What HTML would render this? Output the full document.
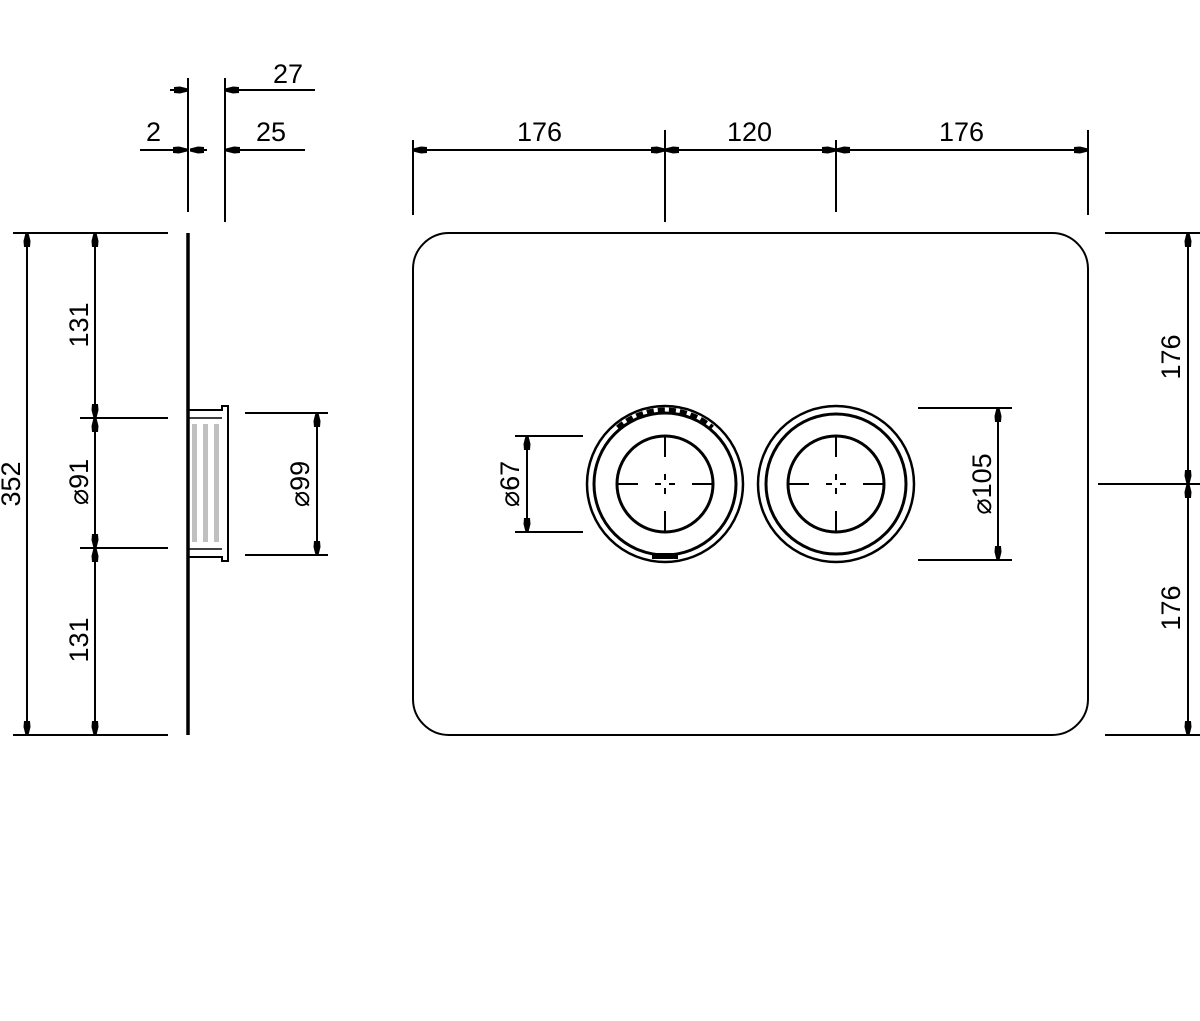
<!DOCTYPE html>
<html><head><meta charset="utf-8"><style>
html,body{margin:0;padding:0;background:#fff;}
svg{display:block}
text{font-family:"Liberation Sans",sans-serif;font-size:27px;fill:#000}
</style></head><body>
<svg width="1200" height="1021" viewBox="0 0 1200 1021" xmlns="http://www.w3.org/2000/svg">
<defs>
<marker id="a" viewBox="0 0 14 8" refX="14" refY="4" markerWidth="14" markerHeight="8" markerUnits="userSpaceOnUse" orient="auto">
<path d="M0,1 L6,0.5 L14,2.5 L14,5.5 L6,7.5 L0,7 Z" fill="#000"/>
</marker>
</defs>
<g stroke="#000" stroke-width="2" fill="none">
<line x1="188" y1="78" x2="188" y2="212"/>
<line x1="225" y1="78" x2="225" y2="222"/>
<line x1="170" y1="90" x2="188" y2="90" marker-end="url(#a)"/>
<line x1="315" y1="90" x2="225" y2="90" marker-end="url(#a)"/>
<line x1="140" y1="150" x2="187" y2="150" marker-end="url(#a)"/>
<line x1="207" y1="150" x2="190" y2="150" marker-end="url(#a)"/>
<line x1="305" y1="150" x2="226" y2="150" marker-end="url(#a)"/>
<line x1="188" y1="233" x2="188" y2="735" stroke-width="3.5"/>
<path d="M188,410 L222,410 L222,406 L228,406 L228,561 L222,561 L222,557 L188,557"/>
<line x1="188" y1="418" x2="222" y2="418" stroke-width="1.5"/>
<line x1="188" y1="549" x2="222" y2="549" stroke-width="1.5"/>
<line x1="13" y1="233" x2="168" y2="233"/>
<line x1="80" y1="418" x2="168" y2="418"/>
<line x1="80" y1="548" x2="168" y2="548"/>
<line x1="13" y1="735" x2="168" y2="735"/>
<line x1="27" y1="484" x2="27" y2="233" marker-end="url(#a)"/>
<line x1="27" y1="484" x2="27" y2="735" marker-end="url(#a)"/>
<line x1="95" y1="330" x2="95" y2="233" marker-end="url(#a)"/>
<line x1="95" y1="330" x2="95" y2="418" marker-end="url(#a)"/>
<line x1="95" y1="484" x2="95" y2="418" marker-end="url(#a)"/>
<line x1="95" y1="484" x2="95" y2="548" marker-end="url(#a)"/>
<line x1="95" y1="640" x2="95" y2="548" marker-end="url(#a)"/>
<line x1="95" y1="640" x2="95" y2="735" marker-end="url(#a)"/>
<line x1="245" y1="413" x2="328" y2="413"/>
<line x1="245" y1="555" x2="328" y2="555"/>
<line x1="317" y1="484" x2="317" y2="413" marker-end="url(#a)"/>
<line x1="317" y1="484" x2="317" y2="555" marker-end="url(#a)"/>
<rect x="413" y="233" width="675" height="502" rx="36" ry="36"/>
<line x1="413" y1="140" x2="413" y2="215"/>
<line x1="665" y1="130" x2="665" y2="222"/>
<line x1="836" y1="140" x2="836" y2="212"/>
<line x1="1088" y1="130" x2="1088" y2="215"/>
<line x1="540" y1="150" x2="413" y2="150" marker-end="url(#a)"/>
<line x1="540" y1="150" x2="665" y2="150" marker-end="url(#a)"/>
<line x1="750" y1="150" x2="665" y2="150" marker-end="url(#a)"/>
<line x1="750" y1="150" x2="836" y2="150" marker-end="url(#a)"/>
<line x1="962" y1="150" x2="836" y2="150" marker-end="url(#a)"/>
<line x1="962" y1="150" x2="1088" y2="150" marker-end="url(#a)"/>
<line x1="1105" y1="233" x2="1200" y2="233"/>
<line x1="1098" y1="484" x2="1200" y2="484"/>
<line x1="1105" y1="735" x2="1200" y2="735"/>
<line x1="1188" y1="360" x2="1188" y2="233" marker-end="url(#a)"/>
<line x1="1188" y1="360" x2="1188" y2="484" marker-end="url(#a)"/>
<line x1="1188" y1="610" x2="1188" y2="484" marker-end="url(#a)"/>
<line x1="1188" y1="610" x2="1188" y2="735" marker-end="url(#a)"/>
<line x1="515" y1="436" x2="583" y2="436"/>
<line x1="515" y1="532" x2="583" y2="532"/>
<line x1="527" y1="484" x2="527" y2="436" marker-end="url(#a)"/>
<line x1="527" y1="484" x2="527" y2="532" marker-end="url(#a)"/>
<line x1="918" y1="408" x2="1012" y2="408"/>
<line x1="918" y1="560" x2="1012" y2="560"/>
<line x1="998" y1="484" x2="998" y2="408" marker-end="url(#a)"/>
<line x1="998" y1="484" x2="998" y2="560" marker-end="url(#a)"/>
<circle cx="665" cy="484" r="78" stroke-width="2.5"/>
<circle cx="665" cy="484" r="71" stroke-width="3"/>
<circle cx="665" cy="484" r="48" stroke-width="3"/>
<circle cx="836" cy="484" r="78" stroke-width="2.5"/>
<circle cx="836" cy="484" r="70" stroke-width="3"/>
<circle cx="836" cy="484" r="48" stroke-width="3"/>
<path d="M616,484h22M655,484h6M669,484h6M692,484h22M665,435v22M665,474v6M665,488v6M665,511v22" stroke-width="2"/>
<path d="M787,484h22M826,484h6M840,484h6M863,484h22M836,435v22M836,474v6M836,488v6M836,511v22" stroke-width="2"/>
<path d="M618,428 A72,72 0 0 1 712,428" stroke-width="6" stroke-dasharray="7 4"/>
<path d="M652,556 L678,556" stroke-width="6"/>
</g>
<g fill="#c0c0c0">
<rect x="192" y="424" width="5" height="118"/>
<rect x="203" y="424" width="5" height="118"/>
<rect x="214" y="424" width="5" height="118"/>
</g>
<text x="273" y="83">27</text>
<text x="146" y="141">2</text>
<text x="256" y="141">25</text>
<text x="517" y="141">176</text>
<text x="727" y="141">120</text>
<text x="939" y="141">176</text>
<text transform="translate(20,484) rotate(-90)" text-anchor="middle">352</text>
<text transform="translate(88,325) rotate(-90)" text-anchor="middle">131</text>
<text transform="translate(88,482) rotate(-90)" text-anchor="middle">⌀91</text>
<text transform="translate(88,640) rotate(-90)" text-anchor="middle">131</text>
<text transform="translate(309,484) rotate(-90)" text-anchor="middle">⌀99</text>
<text transform="translate(519,484) rotate(-90)" text-anchor="middle">⌀67</text>
<text transform="translate(991,484) rotate(-90)" text-anchor="middle">⌀105</text>
<text transform="translate(1180,357) rotate(-90)" text-anchor="middle">176</text>
<text transform="translate(1180,608) rotate(-90)" text-anchor="middle">176</text>
</svg>
</body></html>
